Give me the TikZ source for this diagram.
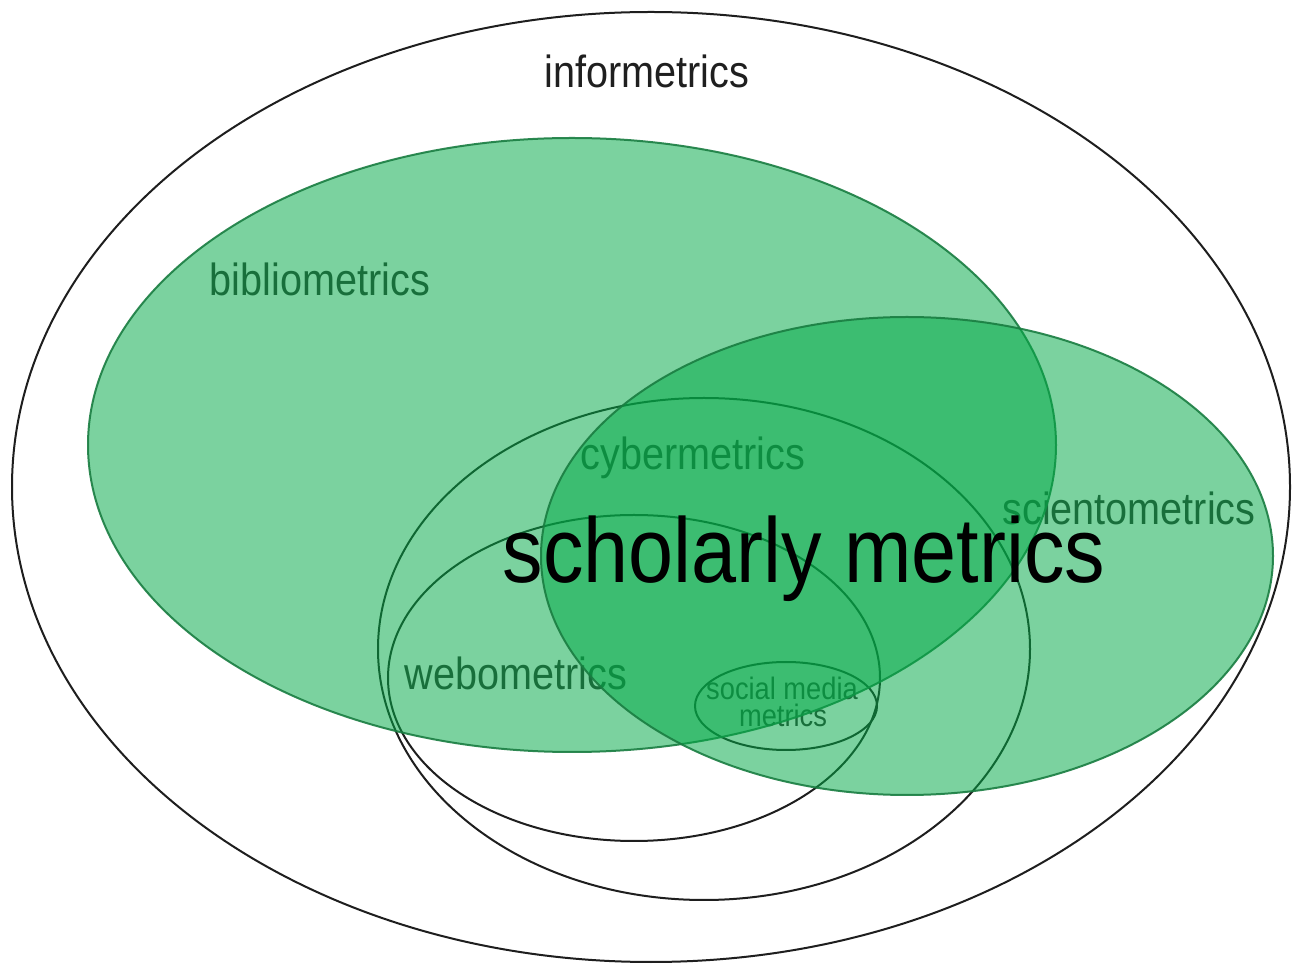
\documentclass[tikz,border=0pt]{standalone}
\usepackage{fontspec}
\setmainfont{Liberation Sans}[FakeStretch=0.88]
\definecolor{vgreen}{RGB}{3,170,71}
\definecolor{vedge}{RGB}{25,125,65}
\definecolor{lineblack}{RGB}{30,30,30}
\definecolor{labelgray}{RGB}{48,48,48}
\tikzset{
  outline/.style={draw=lineblack, line width=1pt},
  greenset/.style={fill=vgreen, fill opacity=0.52, draw=vedge, draw opacity=0.9, line width=1pt},
  lbl/.style={inner sep=0pt, anchor=base, text=labelgray, font=\fontsize{22.5pt}{27pt}\selectfont},
  smalllbl/.style={inner sep=0pt, anchor=base, text=labelgray, font=\fontsize{15.5pt}{18pt}\selectfont},
  biglbl/.style={inner sep=0pt, anchor=base, text=black, font=\fontsize{46pt}{55pt}\selectfont}
}
\begin{document}
\begin{tikzpicture}[x=0.5pt, y=-0.5pt]
  \fill[white] (0,0) rectangle (1297,967);
  \useasboundingbox (0,0) rectangle (1297,967);
  % black outlines (beneath the fills)
  \draw[outline] (651,487) ellipse [x radius=319.5pt, y radius=237.5pt];
  \draw[outline] (704,649) ellipse [x radius=163pt, y radius=125.5pt];
  \draw[outline] (634,678) ellipse [x radius=123pt, y radius=81.5pt];
  \draw[outline] (786,706) ellipse [x radius=45.5pt, y radius=22pt];
  % labels beneath the fills
  \node[lbl, text=black!88] (info) at (647,88) {informetrics};
  \node[lbl] (biblio) at (320,296) {bibliometrics};
  \node[lbl] (cyber) at (693,470) {cybermetrics};
  \node[lbl] (sciento) at (1129,525) {scientometrics};
  \node[lbl] (webo) at (516,690) {webometrics};
  \node[smalllbl] (smm1) at (782,700) {social media};
  \node[smalllbl] (smm2) at (783,727) {metrics};
  % translucent green sets
  \draw[greenset] (572,445) ellipse [x radius=242pt, y radius=153.5pt];
  \draw[greenset] (907,556) ellipse [x radius=183pt, y radius=119.5pt];
  % headline on top
  \node[biglbl] (schol) at (804,583) {scholarly metrics};
\end{tikzpicture}
\end{document}
